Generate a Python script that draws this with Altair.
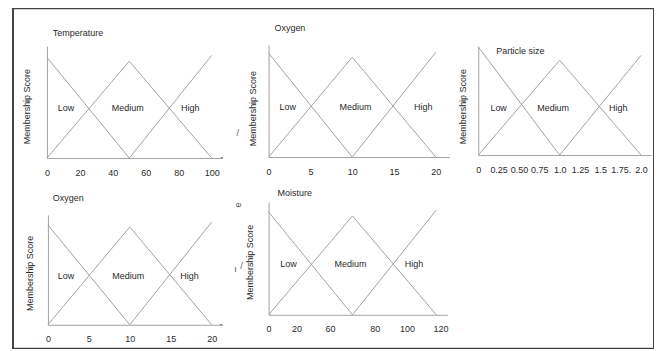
import json
import altair as alt
import pandas as pd

# ---------------- data ----------------
panel_titles = ["Temperature", "Oxygen", "Particle size", "Oxygen", "Moisture"]
series_names = ["Low", "Medium", "High"]

# break points of the three triangular membership functions (start, peak, end)
temp_breaks = [0, 50, 100]
oxy1_breaks = [0, 10, 20]
part_breaks = [0, 1.0, 2.0]
oxy2_breaks = [0, 10, 20]
moist_breaks = [0, 60, 120]

# heights read at: Low start, Medium peak, High end
temp_tops = [1.04, 1.0, 1.06]
oxy1_tops = [1.04, 1.0, 1.05]
part_tops = [1.14, 1.0, 1.05]
oxy2_tops = [1.02, 1.0, 1.05]
moist_tops = [1.04, 1.0, 1.06]

# tick labels
temp_ticks = [0, 20, 40, 60, 80, 100]
oxy_ticks = [0, 5, 10, 15, 20]
part_ticks = [0, 0.25, 0.5, 0.75, 1.0, 1.25, 1.5, 1.75, 2.0]
part_tick_labels = ["0", "0.25", "0.50", "0.75", "1.0", "1.25", "1.5", "1.75.", "2.0"]
moist_ticks = [0, 20, 44, 76, 99, 123]
moist_tick_labels = ["0", "20", "60", "80", "100", "120"]

# positions (in each panel's data units) of Low / Medium / High labels and of the title
temp_label_x = [11.5, 49, 87]
oxy1_label_x = [2.3, 10.4, 18.5]
part_label_x = [0.25, 0.92, 1.72]
oxy2_label_x = [2.2, 9.8, 17.3]
moist_label_x = [14.3, 58.6, 104]
label_y = [0.52, 0.5, 0.5, 0.5, 0.51]
title_x = [3.6, 0.7, 0.22, 0.6, 6.4]
title_y = [1.29, 1.29, 1.095, 1.30, 1.23]

# ---------------- layout (page pixels) ----------------
VX, VY = 13, 8          # view origin on the page
W, H = 642, 341
layout = [
    dict(x0=47, xmax_px=212, xend=223, base=158, one=61, top=46, ytx=27, yty=106),
    dict(x0=269, xmax_px=436.5, xend=450, base=157, one=57, top=45, ytx=253, yty=108),
    dict(x0=479, xmax_px=642, xend=652, base=155, one=60, top=46, ytx=463, yty=106),
    dict(x0=48, xmax_px=212, xend=223, base=325, one=227, top=215, ytx=30, yty=273),
    dict(x0=269, xmax_px=437, xend=448, base=315, one=216, top=202, ytx=250, yty=262),
]

breaks = [temp_breaks, oxy1_breaks, part_breaks, oxy2_breaks, moist_breaks]
tops = [temp_tops, oxy1_tops, part_tops, oxy2_tops, moist_tops]
label_xs = [temp_label_x, oxy1_label_x, part_label_x, oxy2_label_x, moist_label_x]
ticks = [temp_ticks, oxy_ticks, part_ticks, oxy_ticks, moist_ticks]
tick_labels = [None, None, part_tick_labels, None, moist_tick_labels]

LINE = "#a3a3a3"
TEXT = "#2a2a2a"
FONT = "Liberation Sans"

layers = []
for i in range(5):
    lay = layout[i]
    b = breaks[i]
    t = tops[i]
    rows = [
        dict(series="Low", x=b[0], y=t[0]), dict(series="Low", x=b[1], y=0),
        dict(series="Medium", x=b[0], y=0), dict(series="Medium", x=b[1], y=t[1]),
        dict(series="Medium", x=b[2], y=0),
        dict(series="High", x=b[1], y=0), dict(series="High", x=b[2], y=t[2]),
    ]
    df = pd.DataFrame(rows)
    k = (lay["xmax_px"] - lay["x0"]) / b[2]
    xs = alt.Scale(domain=[0, (lay["xend"] - lay["x0"]) / k],
                   range=[lay["x0"] - VX, lay["xend"] - VX], nice=False, zero=False)
    h = lay["base"] - lay["one"]
    ys = alt.Scale(domain=[0, (lay["base"] - lay["top"]) / h],
                   range=[lay["base"] - VY, lay["top"] - VY], nice=False, zero=False)

    xaxis_kw = dict(orient="bottom", offset=(lay["base"] - VY) - H, values=ticks[i],
                    ticks=False, tickSize=0, labelPadding=10, labelFlush=False,
                    labelOverlap=False, title=None, grid=False,
                    domainColor=LINE, labelColor=TEXT, labelFont=FONT, labelFontSize=9)
    if tick_labels[i] is not None:
        xaxis_kw["labelExpr"] = "%s[indexof(%s, datum.value)]" % (
            json.dumps(tick_labels[i]), json.dumps(ticks[i]))
    yaxis = alt.Axis(orient="left", offset=-(lay["x0"] - VX), labels=False, ticks=False,
                     tickSize=0, grid=False, domainColor=LINE,
                     title="Membership Score", titleX=lay["ytx"] - lay["x0"],
                     titleY=lay["yty"] - VY, titleAngle=270, titleAlign="center",
                     titleBaseline="middle", titleFont=FONT, titleFontSize=9,
                     titleFontWeight="normal", titleColor=TEXT)

    layers.append(
        alt.Chart(df).mark_line(stroke=LINE, strokeWidth=1).encode(
            x=alt.X("x:Q", scale=xs, axis=alt.Axis(**xaxis_kw)),
            y=alt.Y("y:Q", scale=ys, axis=yaxis),
            detail="series:N",
        )
    )

    lab = pd.DataFrame(dict(text=series_names, x=label_xs[i], y=[label_y[i]] * 3))
    layers.append(
        alt.Chart(lab).mark_text(font=FONT, fontSize=9, color=TEXT).encode(
            x=alt.X("x:Q", scale=xs, axis=None),
            y=alt.Y("y:Q", scale=ys, axis=None),
            text="text:N",
        )
    )
    tt = pd.DataFrame(dict(text=[panel_titles[i]], x=[title_x[i]], y=[title_y[i]]))
    layers.append(
        alt.Chart(tt).mark_text(font=FONT, fontSize=9, color=TEXT, align="left").encode(
            x=alt.X("x:Q", scale=xs, axis=None),
            y=alt.Y("y:Q", scale=ys, axis=None),
            text="text:N",
        )
    )

    # small stray scan marks beside the Oxygen (top) and Moisture panels
    if i == 1:
        st = pd.DataFrame(dict(text=["/", "-"], x=[-3.7, -5.6], y=[0.24, 0.0], a=[0, 0]))
    elif i == 4:
        st = pd.DataFrame(dict(text=["e", "/", "ı", "-"], x=[-22.1, -19.3, -23.6, -34.0],
                               y=[1.11, 0.49, 0.46, -0.09], a=[270, 0, 0, 0]))
    else:
        st = None
    if st is not None:
        layers.append(
            alt.Chart(st).mark_text(font=FONT, fontSize=9, color="#555555").encode(
                x=alt.X("x:Q", scale=xs, axis=None),
                y=alt.Y("y:Q", scale=ys, axis=None),
                text="text:N",
                angle=alt.Angle("a:Q", scale=None),
            )
        )

chart = (
    alt.layer(*layers)
    .resolve_scale(x="independent", y="independent")
    .properties(width=W, height=H, autosize=alt.AutoSizeParams(type="none"),
                padding={"left": 5, "top": 0, "right": 0, "bottom": 0},
                background="white")
    .configure_view(stroke="#444444", strokeWidth=2)
)

chart.save("out.html", embed_options={"renderer": "svg", "actions": False})
